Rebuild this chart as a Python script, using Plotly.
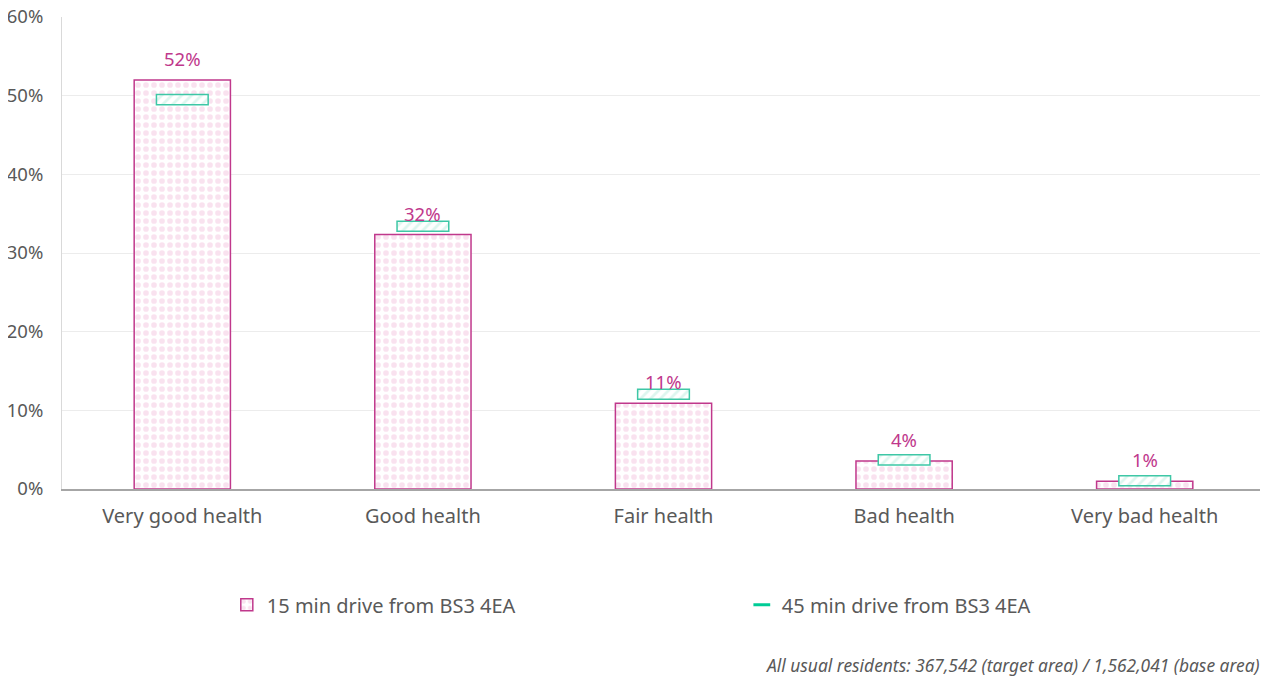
import plotly.graph_objects as go

categories = ["Very good health", "Good health", "Fair health", "Bad health", "Very bad health"]
drive_15 = [52.0, 32.35, 10.9, 3.55, 1.0]
drive_45 = [49.5, 33.4, 12.05, 3.7, 1.05]
labels_15 = ["52%", "32%", "11%", "4%", "1%"]
name_15 = "15 min drive from BS3 4EA"
name_45 = "45 min drive from BS3 4EA"
footnote = "All usual residents: 367,542 (target area) / 1,562,041 (base area)"

FONT = "Noto Sans"
GREY = "#595959"
MAGENTA = "#c0388c"
TEAL = "#3ec7a6"
half_h = 0.64

fig = go.Figure()
fig.add_trace(go.Bar(
    x=categories, y=drive_15, name=name_15, width=0.4,
    marker=dict(color="#ffffff", line=dict(color=MAGENTA, width=1.5),
                pattern=dict(shape=".", fgcolor="#f3c6df", bgcolor="#ffffff", size=8, solidity=0.4)),
    hoverinfo="skip", legendrank=1,
))
fig.add_trace(go.Bar(
    x=categories, y=[2 * half_h] * len(drive_45), base=[v - half_h for v in drive_45],
    name=name_45, width=0.215, showlegend=False,
    marker=dict(color="#ffffff", line=dict(color=TEAL, width=1.5),
                pattern=dict(shape="/", fgcolor="#bdeee0", bgcolor="#ffffff", size=7, solidity=0.4)),
    hoverinfo="skip",
))
# legend entry for the 45-min markers (thin horizontal symbol)
fig.add_trace(go.Scatter(
    x=[None], y=[None], mode="markers", name=name_45, legendrank=2,
    marker=dict(symbol="line-ew-open", size=12, line=dict(color=TEAL, width=3)),
))

for c, v15, lab in zip(categories, drive_15, labels_15):
    fig.add_annotation(x=c, y=v15, text=lab, showarrow=False, yanchor="bottom", yshift=7,
                       font=dict(family=FONT, size=18.5, color=MAGENTA))

fig.add_annotation(xref="paper", yref="paper", x=0.9975, y=-0.372, xanchor="right", yanchor="middle",
                   text=footnote, showarrow=False,
                   font=dict(family=FONT, size=17.4, color=GREY, style="italic"))

fig.update_layout(
    width=1260, height=672,
    margin=dict(l=54, r=3, t=9, b=191),
    barmode="overlay",
    plot_bgcolor="#ffffff", paper_bgcolor="#ffffff",
    font=dict(family=FONT, color=GREY),
    showlegend=True,
    legend=dict(orientation="h", x=0.137, xanchor="left", y=-0.2452, yanchor="middle",
                font=dict(family=FONT, size=20, color=GREY), entrywidth=470, entrywidthmode="pixels",
                itemwidth=30, bgcolor="rgba(0,0,0,0)"),
)
fig.update_yaxes(range=[0, 60], dtick=10, ticksuffix="%", showgrid=True, gridcolor="#ececec",
                 showline=True, linecolor="#d9d9d9", linewidth=1, zeroline=False,
                 tickfont=dict(family=FONT, size=18.5, color=GREY), ticklabelstandoff=14,
                 ticklabeloverflow="allow", automargin=False)
fig.update_xaxes(showline=True, linecolor="#a6a6a6", linewidth=1.5, showgrid=False,
                 tickfont=dict(family=FONT, size=20, color=GREY), ticklabelstandoff=8,
                 automargin=False)

fig.write_html("out.html")
